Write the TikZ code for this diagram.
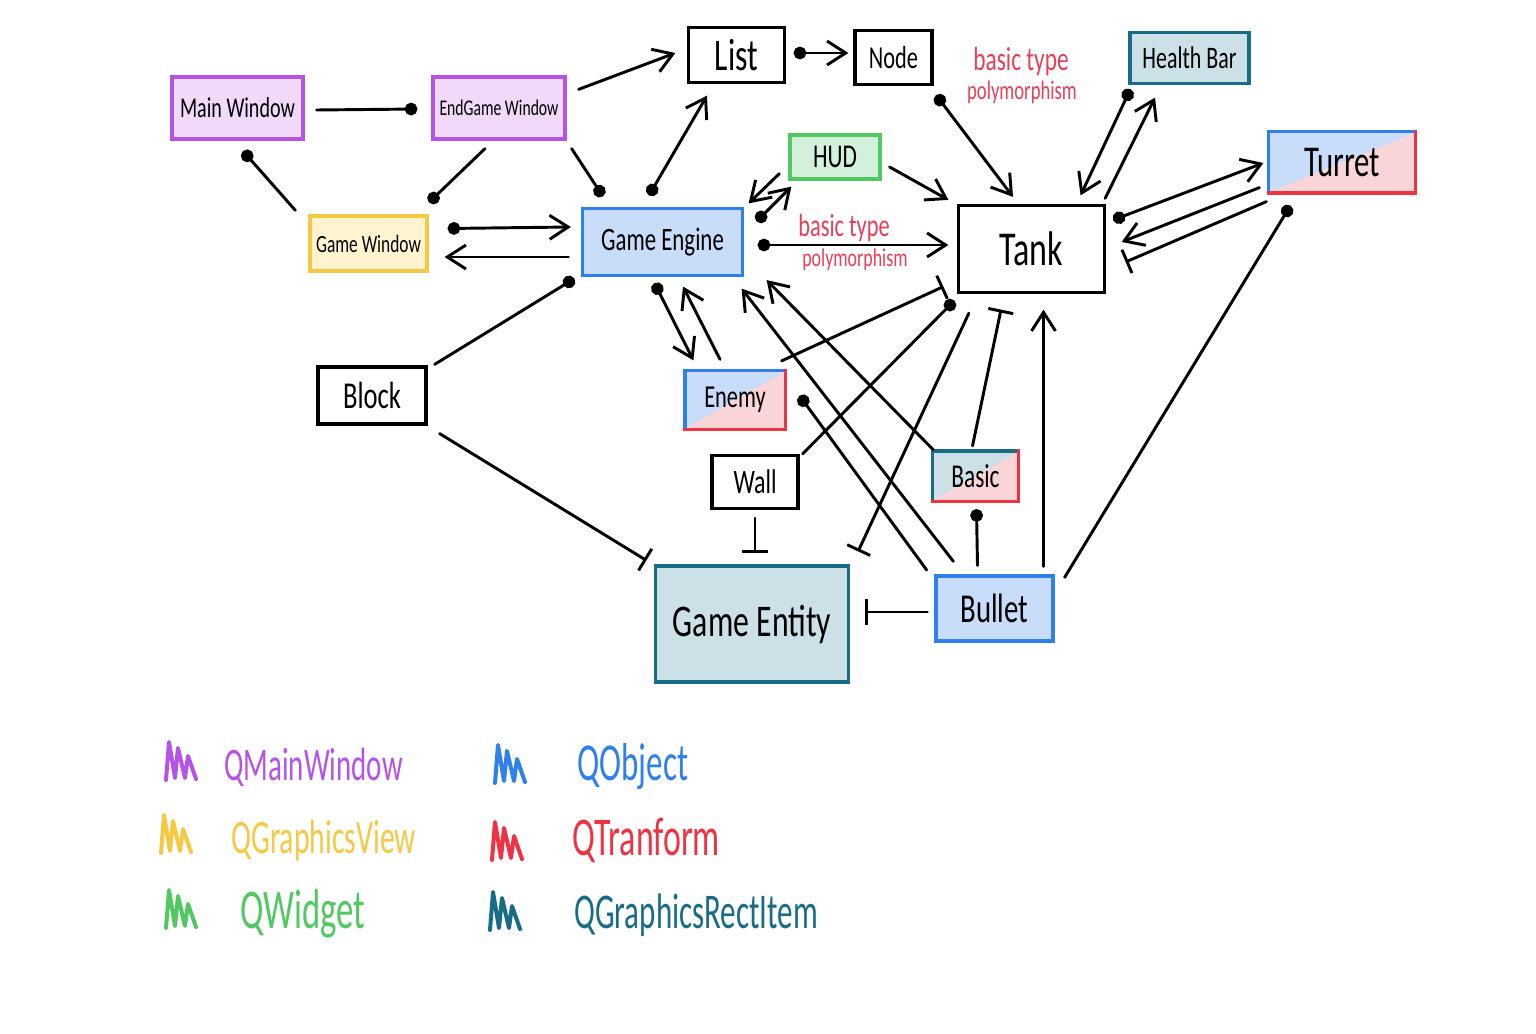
\documentclass[tikz,border=0pt]{standalone}
\usepackage{fontspec}
\setmainfont{Carlito}
\newfontfamily\handfont[FakeStretch=0.7]{Carlito}
\newfontfamily\legendfont[FakeStretch=0.62]{Carlito}
\usetikzlibrary{arrows.meta}

% class colours
\definecolor{mwline}{HTML}{B553E6}\definecolor{mwfill}{HTML}{F1D9F9}
\definecolor{gvline}{HTML}{F6C945}\definecolor{gvfill}{HTML}{FFF4CF}
\definecolor{obline}{HTML}{2F80EA}\definecolor{obfill}{HTML}{C8DDF9}
\definecolor{wgline}{HTML}{52C862}\definecolor{wgfill}{HTML}{D3F1DA}
\definecolor{riline}{HTML}{196C86}\definecolor{rifill}{HTML}{CCE0E7}
\definecolor{trline}{HTML}{EE3345}\definecolor{trfill}{HTML}{FAD5D8}
\definecolor{notered}{HTML}{E6405A}

\tikzset{
  box/.style={draw=black, line width=2.4pt, fill=white, inner sep=0pt, text=black},
  sz/.style 2 args={minimum width=#1*0.75pt, minimum height=#2*0.75pt},
  hw/.style={font=\handfont\fontsize{#1}{#1}\selectfont},
  mwbox/.style={draw=mwline, fill=mwfill},
  gvbox/.style={draw=gvline, fill=gvfill},
  obbox/.style={draw=obline, fill=obfill},
  wgbox/.style={draw=wgline, fill=wgfill},
  ribox/.style={draw=riline, fill=rifill},
  split/.style 2 args={draw=none, fill=white, path picture={
      \fill[#2] (path picture bounding box.south west) rectangle (path picture bounding box.north east);
      \fill[#1] (path picture bounding box.south west) -- (path picture bounding box.north west)
                -- (path picture bounding box.north east) -- cycle;}},
  edge2/.style={line width=2.4pt, line cap=rect},
  wire/.style={line width=2.2pt, line cap=round, line join=round},
  barb/.tip={Straight Barb[length=14pt,width=18pt]},
  ball/.tip={Circle[length=9.5pt]},
  tee/.tip={Bar[width=19pt]},
  note/.style={text=notered, inner sep=0pt, anchor=base, font=\handfont\fontsize{#1}{#1}\selectfont},
  legtext/.style={inner sep=0pt, anchor=base west},
  scrib/.pic={\draw[line width=3pt, line cap=round, line join=round]
      (0,18) -- (3,-20) -- (9,16) -- (12,-14) -- (19,16) -- (22,-6) -- (30,17);}
}

\begin{document}
\begin{tikzpicture}[x=0.75pt, y=-0.75pt]
\useasboundingbox[fill=white] (0,0) rectangle (1536,1034);

% ---- classes ----
\node[box, mwbox, sz={131}{62}, hw=21.5] (mainw) at (237.5,108) {Main Window};
\node[box, mwbox, sz={132}{62}, hw=16.8] (endw) at (499,108) {EndGame Window};
\node[box, gvbox, sz={117}{55}, hw=18.6] (gamew) at (368.5,243.5) {Game Window};
\node[box, obbox, sz={160}{67}, hw=24.5] (engine) at (662.5,242) {Game Engine};
\node[box, sz={96}{55}, hw=34] (list) at (736.5,55) {List};
\node[box, sz={77}{54}, hw=24] (nodeN) at (893.5,57.5) {Node};
\node[box, wgbox, sz={90}{44}, hw=25] (hud) at (835,157) {HUD};
\node[box, sz={146}{87}, hw=36.5] (tank) at (1031.5,249) {Tank};
\node[box, ribox, sz={119}{51}, hw=23.5] (hbar) at (1189.5,58) {Health Bar};
\node[box, split={obfill}{trfill}, sz={144}{58}, hw=33] (turret) at (1342,162.5) {Turret};
\node[box, sz={108}{57}, hw=28.5] (block) at (372,395.5) {Block};
\node[box, split={obfill}{trfill}, sz={97}{55}, hw=24] (enemy) at (735,400) {Enemy};
\node[box, sz={86}{53}, hw=25.7] (wall) at (755,482) {Wall};
\node[box, split={rifill}{trfill}, sz={83}{47}, hw=25] (basic) at (975.5,476) {Basic};
\node[box, ribox, sz={193}{116}, hw=34] (entity) at (752,624) {Game Entity};
\node[box, obbox, sz={117}{65}, hw=30.8] (bullet) at (994.5,608.5) {Bullet};

% two-coloured outlines of the mixed classes
\draw[edge2, obline] (turret.south west) |- (turret.north east);
\draw[edge2, trline] (turret.south west) -| (turret.north east);
\draw[edge2, obline] (enemy.south west) |- (enemy.north east);
\draw[edge2, trline] (enemy.south west) -| (enemy.north east);
\draw[edge2, riline] (basic.south west) |- (basic.north east);
\draw[edge2, trline] (basic.south west) -| (basic.north east);

% ---- notes ----
\node[note=25] (note1a) at (1021,71) {basic type};
\node[note=20] (note1b) at (1022,100) {polymorphism};
\node[note=24] (note2a) at (844,237) {basic type};
\node[note=19.2] (note2b) at (855,267) {polymorphism};

% ---- relations ----
\draw[wire,-{ball}] ([shift={(12,2)}]mainw.east) -- ([shift={(-14,1)}]endw.west);
\draw[wire,{ball}-] ([shift={(5.5,10.5)}]mainw.south) -- ([shift={(-13,-4)}]gamew.north west);
\draw[wire,-{ball}] ([shift={(-14,8)}]endw.south) -- ([shift={(60.5,-12)}]gamew.north);
\draw[wire,-{ball}] ([shift={(5,8)}]endw.south east) -- ([shift={(22,-10.5)}]engine.north west);
\draw[wire,-{barb}] ([shift={(12,14)}]endw.north east) -- ([shift={(-11.5,-2)}]list.west);
\draw[wire,{ball}-{barb}] ([shift={(19,-15)}]gamew.east) -- ([shift={(-10,-15)}]engine.west);
\draw[wire,-{barb}] ([shift={(-12.5,15)}]engine.west) -- ([shift={(16,13.5)}]gamew.east);
\draw[wire,{ball}-{barb}] ([shift={(-13.5,-11.5)}]engine.north) -- ([shift={(-29.5,11.5)}]list.south);
\draw[wire,{ball}-{barb}] ([shift={(7.5,-2)}]list.east) -- ([shift={(-5,-4.5)}]nodeN.west);
\draw[wire,{ball}-{barb}] ([shift={(2.5,9)}]nodeN.south east) -- ([shift={(-18.5,-7)}]tank.north);
\draw[wire,-{barb}] ([shift={(-9,-7)}]hud.south west) -- ([shift={(4.5,-3.5)}]engine.north east);
\draw[wire,{ball}-{barb}] ([shift={(12.5,14.5)}]engine.north east) -- ([shift={(3,6)}]hud.south west);
\draw[wire,-{barb}] ([shift={(8,10)}]hud.east) -- ([shift={(-8.5,-4)}]tank.north west);
\draw[wire,{ball}-{barb}] ([shift={(13.5,3)}]engine.east) -- ([shift={(-8.5,-4)}]tank.west);
\draw[wire,{ball}-{barb}] ([shift={(2,4)}]hbar.south west) -- ([shift={(-25.5,-8.5)}]tank.north east);
\draw[wire,-{barb}] ([shift={(-1,-5.5)}]tank.north east) -- ([shift={(-34.5,12.5)}]hbar.south);
\draw[wire,{ball}-{barb}] ([shift={(7,-29)}]tank.east) -- ([shift={(-5,0.5)}]turret.west);
\draw[wire,-{barb}] ([shift={(-9,-5.5)}]turret.south west) -- ([shift={(15.5,-7)}]tank.east);
\draw[wire,-{tee}] ([shift={(-2,8.5)}]turret.south west) -- ([shift={(19.5,13)}]tank.east);
\draw[wire,{ball}-] ([shift={(22,12.5)}]turret.south west) -- ([shift={(10,3)}]bullet.north east);
\draw[wire,{ball}-] ([shift={(-6.5,1.5)}]engine.south west) -- ([shift={(7,-1)}]block.north east);
\draw[wire,-{tee}] ([shift={(12,8)}]block.south east) -- ([shift={(-7.5,-4)}]entity.north west);
\draw[wire,{ball}-{barb}] ([shift={(-8,6)}]engine.south) -- ([shift={(8.5,-10.5)}]enemy.north west);
\draw[wire,-{barb}] ([shift={(-15,-11.5)}]enemy.north) -- ([shift={(20.5,9.5)}]engine.south);
\draw[wire,-{tee}] ([shift={(-3.5,-10)}]enemy.north east) -- ([shift={(-13.5,-7.5)}]tank.south west);
\draw[wire,{ball}-] ([shift={(-2.5,6.5)}]tank.south west) -- ([shift={(3,0)}]wall.north east);
\draw[wire,-{tee}] ([shift={(12,19)}]tank.south west) -- ([shift={(8,-13)}]entity.north east);
\draw[wire,-{tee}] ([shift={(-3,-5)}]basic.north) -- ([shift={(-30.5,15.5)}]tank.south);
\draw[wire,-{barb}] ([shift={(49,-8)}]bullet.north) -- ([shift={(12,15.5)}]tank.south);
\draw[wire,-{barb}] ([shift={(1,-1)}]basic.north west) -- ([shift={(22.5,3)}]engine.south east);
\draw[wire,-{barb}] ([shift={(19,-13)}]bullet.north west) -- ([shift={(-2.5,11.5)}]engine.south east);
\draw[wire,{ball}-] ([shift={(14.5,-4.3)}]enemy.east) -- ([shift={(-7.7,-4.3)}]bullet.north west);
\draw[wire,{ball}-] ([shift={(1,8)}]basic.south) -- ([shift={(-17,-9)}]bullet.north);
\draw[wire,-{tee}] ([shift={(0,8)}]wall.south) -- ([shift={(3,-11)}]entity.north);
\draw[wire,-{tee}] ([shift={(-7,3.5)}]bullet.west) -- ([shift={(14.5,-12)}]entity.east);

% ---- legend ----
\pic[mwline] at (166,762) {scrib};
\pic[gvline] at (161,835) {scrib};
\pic[wgline] at (166,910) {scrib};
\pic[obline] at (495,765) {scrib};
\pic[trline] at (492,842) {scrib};
\pic[riline] at (490,912) {scrib};
\node[legtext, text=mwline, font=\legendfont\fontsize{35}{35}\selectfont] (lgmw) at (224,780) {QMainWindow};
\node[legtext, text=gvline, font=\legendfont\fontsize{36}{36}\selectfont] (lggv) at (231,853) {QGraphicsView};
\node[legtext, text=wgline, font=\legendfont\fontsize{42}{42}\selectfont] (lgwg) at (240,928) {QWidget};
\node[legtext, text=obline, font=\legendfont\fontsize{40}{40}\selectfont] (lgob) at (577,780) {QObject};
\node[legtext, text=trline, font=\legendfont\fontsize{41}{41}\selectfont] (lgtr) at (572,855) {QTranform};
\node[legtext, text=riline, font=\legendfont\fontsize{37.5}{37.5}\selectfont] (lgri) at (574,928) {QGraphicsRectItem};
\end{tikzpicture}
\end{document}
